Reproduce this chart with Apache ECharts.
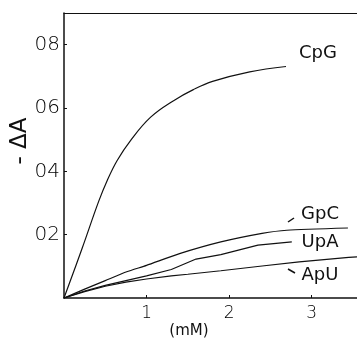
<!DOCTYPE html>
<html lang="en">
<head>
    <meta charset="UTF-8">
    <title>echarts</title>
 <style>
     html, body { margin:0; padding:0; background:#fff; }
     #pic{
         width:357px;
         height:339px;
          }
  </style>
</head>
<body>
<div id="pic"></div>
</body>
<script src="https://cdn.jsdelivr.net/npm/echarts@6/dist/echarts.min.js"></script>
<script>
    // concentration (mM) vs -dA readings
    var cpgX = [0, 0.22, 0.42, 0.525, 0.646, 0.808, 1.05, 1.333, 1.567, 1.8, 2.25, 2.69];
    var cpgY = [0, 0.157, 0.305, 0.372, 0.435, 0.498, 0.571, 0.624, 0.658, 0.684, 0.714, 0.731];
    var gpcX = [0, 0.25, 0.5, 0.76, 1.0, 1.4, 1.9, 2.4, 2.7, 3.44];
    var gpcY = [0, 0.028, 0.055, 0.083, 0.103, 0.14, 0.177, 0.204, 0.214, 0.221];
    var upaX = [0, 0.25, 0.5, 0.75, 1.0, 1.3, 1.6, 1.9, 2.35, 2.76];
    var upaY = [0, 0.022, 0.04, 0.055, 0.07, 0.09, 0.123, 0.137, 0.167, 0.177];
    var apuX = [0, 0.25, 0.5, 0.75, 1.0, 1.3, 1.5, 1.9, 2.4, 2.85, 3.45, 3.55];
    var apuY = [0, 0.02, 0.037, 0.05, 0.06, 0.07, 0.075, 0.086, 0.101, 0.114, 0.128, 0.13];
    var xTicks = [1, 2, 3];
    var yTicks = [0.2, 0.4, 0.6, 0.8];
    var yTickText = ['02', '04', '06', '08'];

    function pairs(xs, ys) {
        return xs.map(function (x, i) { return [x, ys[i]]; });
    }

    var font = 'DejaVu Sans';
    var ink = '#111';
    var myChart = echarts.init(document.getElementById('pic'));

    function curve(name, xs, ys, smooth) {
        return {
            name: name,
            type: 'line',
            data: pairs(xs, ys),
            showSymbol: false,
            smooth: smooth,
            lineStyle: { color: ink, width: 1.2 },
            silent: true
        };
    }

    var option = {
        animation: false,
        grid: { left: 64, top: 13, right: 0, bottom: 41 },
        xAxis: [{
            type: 'value',
            min: 0,
            max: 3.55,
            splitLine: { show: false },
            axisLine: { lineStyle: { color: ink, width: 1.5 } },
            axisTick: { inside: true, length: 3, customValues: xTicks, lineStyle: { color: ink } },
            axisLabel: {
                customValues: xTicks,
                margin: 7,
                color: '#000',
                fontFamily: font,
                fontSize: 17,
                fontWeight: 'lighter'
            }
        }, {
            type: 'value',
            position: 'top',
            min: 0,
            max: 3.55,
            splitLine: { show: false },
            axisLine: { lineStyle: { color: ink, width: 1.2 } },
            axisTick: { show: false },
            axisLabel: { show: false }
        }],
        yAxis: {
            type: 'value',
            min: 0,
            max: 0.9,
            splitLine: { show: false },
            axisLine: { lineStyle: { color: ink, width: 1.5 } },
            axisTick: { inside: true, length: 3, customValues: yTicks, lineStyle: { color: ink } },
            axisLabel: {
                customValues: yTicks,
                margin: 4,
                color: '#000',
                fontFamily: font,
                fontSize: 20,
                fontWeight: 'lighter',
                formatter: function (v) {
                    var i = yTicks.indexOf(Math.round(v * 10) / 10);
                    return i >= 0 ? yTickText[i] : '';
                }
            }
        },
        series: [
            curve('CpG', cpgX, cpgY, 0.4),
            curve('GpC', gpcX, gpcY, 0.2),
            curve('UpA', upaX, upaY, false),
            curve('ApU', apuX, apuY, false)
        ],
        graphic: [
            { type: 'text', x: 20, y: 141, rotation: Math.PI / 2,
              style: { text: '- ΔA', font: '23px "DejaVu Sans"', fill: ink, align: 'center', verticalAlign: 'middle' } },
            { type: 'text', x: 189, y: 331,
              style: { text: '(mM)', font: '15px "DejaVu Sans"', fill: ink, align: 'center', verticalAlign: 'middle' } },
            { type: 'text', x: 318, y: 53,
              style: { text: 'CpG', font: '18px "DejaVu Sans"', fill: ink, align: 'center', verticalAlign: 'middle' } },
            { type: 'text', x: 320, y: 214,
              style: { text: 'GpC', font: '18px "DejaVu Sans"', fill: ink, align: 'center', verticalAlign: 'middle' } },
            { type: 'text', x: 320, y: 242,
              style: { text: 'UpA', font: '18px "DejaVu Sans"', fill: ink, align: 'center', verticalAlign: 'middle' } },
            { type: 'text', x: 320, y: 275,
              style: { text: 'ApU', font: '18px "DejaVu Sans"', fill: ink, align: 'center', verticalAlign: 'middle' } },
            { type: 'line', shape: { x1: 288, y1: 222, x2: 294, y2: 218 }, style: { stroke: ink, lineWidth: 1.5 } },
            { type: 'line', shape: { x1: 288, y1: 269, x2: 295, y2: 273 }, style: { stroke: ink, lineWidth: 1.5 } }
        ]
    };

    myChart.setOption(option);
</script>
</html>
